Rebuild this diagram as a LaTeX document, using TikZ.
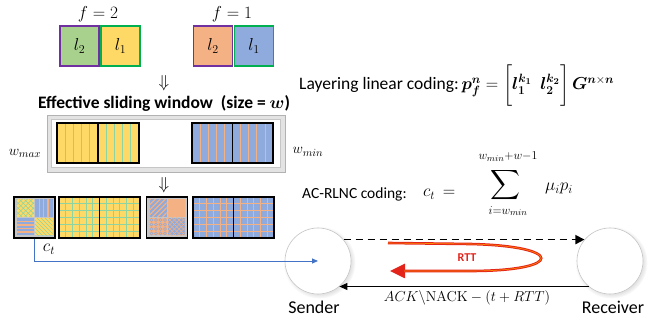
\documentclass[tikz,border=0pt]{standalone}
\usepackage{amsmath}
\usepackage{bm}
\usepackage[no-math]{fontspec}
\setmainfont{Carlito}
\usetikzlibrary{arrows.meta,shadows}
\definecolor{cG}{HTML}{A9D18E}
\definecolor{cY}{HTML}{FFD966}
\definecolor{cO}{HTML}{F4B183}
\definecolor{cB}{HTML}{8FAADC}
\definecolor{cP}{HTML}{7030A0}
\definecolor{cGB}{HTML}{00B050}
\definecolor{cL}{HTML}{8ED3A2}
\definecolor{cArr}{HTML}{4472C4}
\definecolor{cRed}{HTML}{E3241B}
\pgfdeclareradialshading{ballx}{\pgfpoint{0bp}{0bp}}{color(0bp)=(white); color(37bp)=(white); color(50bp)=(gray!45); color(72bp)=(gray!45)}
% vertical / horizontal evenly spaced lines
\newcommand\vlin[6]{\foreach \j in {1,...,#5}{\draw[#6] ({#1+(#3-#1)*\j/(#5+1)},#2) -- ({#1+(#3-#1)*\j/(#5+1)},#4);}}
\newcommand\hlin[6]{\foreach \j in {1,...,#5}{\draw[#6] (#1,{#2+(#4-#2)*\j/(#5+1)}) -- (#3,{#2+(#4-#2)*\j/(#5+1)});}}
% diagonal hatching
\newcommand\hatchbs[6]{\begin{scope}\clip (#1,#2) rectangle (#3,#4);\foreach \j in {0,...,16}{\draw[#6] ({#1+\j*#5-22},#2) -- ++(30,30);}\end{scope}}
\newcommand\hatchfs[6]{\begin{scope}\clip (#1,#2) rectangle (#3,#4);\foreach \j in {0,...,16}{\draw[#6] ({#1+\j*#5-22},#4) -- ++(30,-30);}\end{scope}}
\newcommand\ringsp[6]{\begin{scope}\clip (#1,#2) rectangle (#3,#4);\foreach \a in {0,...,5}{\foreach \b in {0,...,5}{\draw[#6] ({#1+2+\a*#5},{#2+2+\b*#5}) circle (1.5pt);}}\end{scope}}
\begin{document}
\begin{tikzpicture}[x=1pt,y=-1pt,
  topbox/.style={minimum width=39pt, minimum height=40pt, line width=1.6pt, inner sep=0pt, font=\fontsize{17}{20}\selectfont},
  mth/.style={inner sep=0pt, font=\fontsize{17}{20}\selectfont},
  txt/.style={inner sep=0pt, font=\fontsize{17.5}{20}\selectfont},
  blk/.style={draw=black, line width=1.6pt},
  pl/.style={line width=0.7pt},
  quad/.style={draw=black, line width=1.5pt, fill=gray!45, minimum width=41pt, minimum height=41pt, inner sep=0pt},
  ball/.style={circle, minimum size=66pt, draw=gray!45, line width=0.6pt, shading=ballx,
     circular drop shadow={shadow xshift=1.2pt, shadow yshift=-1.2pt, opacity=0.25}}
]
\useasboundingbox (0,0) rectangle (649,320);

% ---------- top row: layers ----------
\node[mth] (f2) at (98,14) {$f=2$};
\node[mth] (f1) at (232,14) {$f=1$};
\node[topbox, fill=cG, draw=cP] (g2) at (79.5,46) {$l_2$};
\node[topbox, fill=cY, draw=cGB] (y1) at (120.5,46) {$l_1$};
\node[topbox, fill=cO, draw=cP] (o2) at (213,46) {$l_2$};
\node[topbox, fill=cB, draw=cGB] (b1) at (254,46) {$l_1$};
\node[mth] (d1) at (164,83) {$\Downarrow$};

\node[txt, anchor=base west] (lay) at (299,90) {Layering linear coding:{\fontsize{18.5}{22}\selectfont$\,\bm{p}_{\bm{f}}^{\bm{n}} = \biggl[\bm{l}_{\mathbf{1}}^{\bm{k}_{\mathbf{1}}}\ \ \bm{l}_{\mathbf{2}}^{\bm{k}_{\mathbf{2}}}\biggr]\,\bm{G}^{\bm{n}\times\bm{n}}$}};

% ---------- sliding window ----------
\node[inner sep=0pt, font=\bfseries\fontsize{17.5}{20}\selectfont] (eff) at (164,103) {Effective sliding window\ \ (size = $\bm{w}$)};
\node[draw=gray!60, fill=gray!22, line width=0.8pt, minimum width=238pt, minimum height=57pt, inner sep=0pt,
      drop shadow={shadow xshift=1.2pt, shadow yshift=-1.2pt, opacity=0.25}] (win) at (166,143.5) {};
\node[draw=gray!45, fill=white, line width=0.5pt, minimum width=229pt, minimum height=48pt, inner sep=0pt] (wini) at (win.center) {};
% yellow
\fill[cY] (57,123) rectangle (139,163);
\vlin{57}{123}{98}{163}{4}{cL,pl}
\vlin{98}{123}{139}{163}{4}{cL,pl}
\draw[blk] (57,123) rectangle (98,163);
\draw[blk] (98,123) rectangle (139,163);
% blue
\fill[cB] (192,123) rectangle (273,163);
\vlin{192}{123}{232.5}{163}{4}{cO,pl}
\vlin{232.5}{123}{273}{163}{4}{cO,pl}
\draw[blk] (192,123) rectangle (232.5,163);
\draw[blk] (232.5,123) rectangle (273,163);
\node[inner sep=0pt, font=\fontsize{15}{17}\selectfont] (wmax) at (25,153) {$w_{max}$};
\node[inner sep=0pt, font=\fontsize{15}{17}\selectfont] (wmin) at (308,152) {$w_{min}$};
\node[mth] (d2) at (164,185) {$\Downarrow$};

% ---------- AC-RLNC coding ----------
\node[inner sep=0pt, font=\fontsize{15.5}{18}\selectfont, anchor=base west] (ac) at (302,199) {AC-RLNC coding:};
\node[mth, anchor=base west] (ct) at (423,197) {$c_t\,=$};
\node[inner sep=0pt, font=\fontsize{20.5}{22}\selectfont] (sig) at (505,185) {$\displaystyle\sum$};
\node[inner sep=0pt, font=\fontsize{12.5}{14}\selectfont] (up) at (508,157) {$w_{min}{+}w{-}1$};
\node[inner sep=0pt, font=\fontsize{12.5}{14}\selectfont] (lo) at (508,211) {$i{=}w_{min}$};
\node[mth, anchor=base west] (mu) at (545,191) {$\mu_i p_i$};

% ---------- coded packets row ----------
\node[quad] (q1) at (34.5,217.5) {};
\fill[cY] (16.5,199.5) rectangle (34,217);
\hatchbs{16.5}{199.5}{34}{217}{5}{cL,line width=0.6pt}
\hatchfs{16.5}{199.5}{34}{217}{5}{cL,line width=0.6pt}
\fill[cB] (35,199.5) rectangle (52.5,217);
\vlin{35}{199.5}{52.5}{217}{3}{cO,line width=1.3pt}
\fill[cB] (16.5,218) rectangle (34,235.5);
\hlin{16.5}{218}{34}{235.5}{4}{cO,line width=1.6pt}
\fill[cY] (35,218) rectangle (52.5,235.5);
\hatchbs{35}{218}{52.5}{235.5}{4}{cL,line width=0.7pt}

\fill[cY] (59,197) rectangle (140,238);
\vlin{59}{197}{99.5}{238}{5}{cL,pl}
\vlin{99.5}{197}{140}{238}{5}{cL,pl}
\hlin{59}{197}{140}{238}{5}{cL,pl}
\draw[blk] (59,197) rectangle (99.5,238);
\draw[blk] (99.5,197) rectangle (140,238);

\node[quad] (q2) at (167,217.5) {};
\fill[cB] (149.5,199.5) rectangle (166.5,217);
\hatchfs{149.5}{199.5}{166.5}{217}{5}{cO,line width=1.1pt}
\fill[cO] (167.5,199.5) rectangle (184.5,217);
\fill[cO] (149.5,218) rectangle (166.5,235.5);
\ringsp{149.5}{218}{166.5}{235.5}{4.5}{cB,line width=0.6pt}
\fill[cB] (167.5,218) rectangle (184.5,235.5);
\hatchbs{167.5}{218}{184.5}{235.5}{4.5}{cO,line width=0.6pt}
\hatchfs{167.5}{218}{184.5}{235.5}{4.5}{cO,line width=0.6pt}

\fill[cB] (193,197) rectangle (274,238);
\vlin{193}{197}{233.5}{238}{5}{cO,pl}
\vlin{233.5}{197}{274}{238}{5}{cO,pl}
\hlin{193}{197}{274}{238}{5}{cO,pl}
\draw[blk] (193,197) rectangle (233.5,238);
\draw[blk] (233.5,197) rectangle (274,238);

\node[mth] (ctl) at (49,249) {$c_t$};

% ---------- sender / receiver ----------
\node[ball] (S) at (318,261) {};
\node[ball] (R) at (610,261) {};
\node[inner sep=0pt, font=\fontsize{18}{20}\selectfont] (st) at (314,307) {Sender};
\node[inner sep=0pt, font=\fontsize{18}{20}\selectfont] (rt) at (613,307) {Receiver};

\draw[cArr, line width=0.8pt, -{Triangle[length=6pt,width=5pt]}] (q1.south) |- (S.center);
\draw[dashed, dash pattern=on 7pt off 5pt, line width=1.6pt, -{Triangle[length=9pt,width=9pt]}] (S.40) -- (R.140);
\draw[line width=1pt, -{Triangle[length=8pt,width=7pt]}] (R.230) -- (S.-50);
\node[inner sep=0pt, font=\fontsize{15}{18}\selectfont] (ack) at (467,298) {$ACK\backslash\mathrm{NACK}-(t+RTT)$};

% RTT loop
\coordinate (r1) at (388,243);
\coordinate (r2) at (390,271);
\draw[cRed, line width=2.6pt, -{Triangle[length=15pt,width=14pt]}] (r1) -- (470,244) .. controls (565,246) and (565,271) .. (470,271) -- (r2);
\draw[orange!90!yellow, line width=0.6pt] (r1) -- (470,244) .. controls (565,246) and (565,271) .. (470,271) -- (404,271);
\node[inner sep=0pt, font=\bfseries\fontsize{12}{14}\selectfont, text=cRed] (rtt) at (467,258) {RTT};
\end{tikzpicture}
\end{document}
